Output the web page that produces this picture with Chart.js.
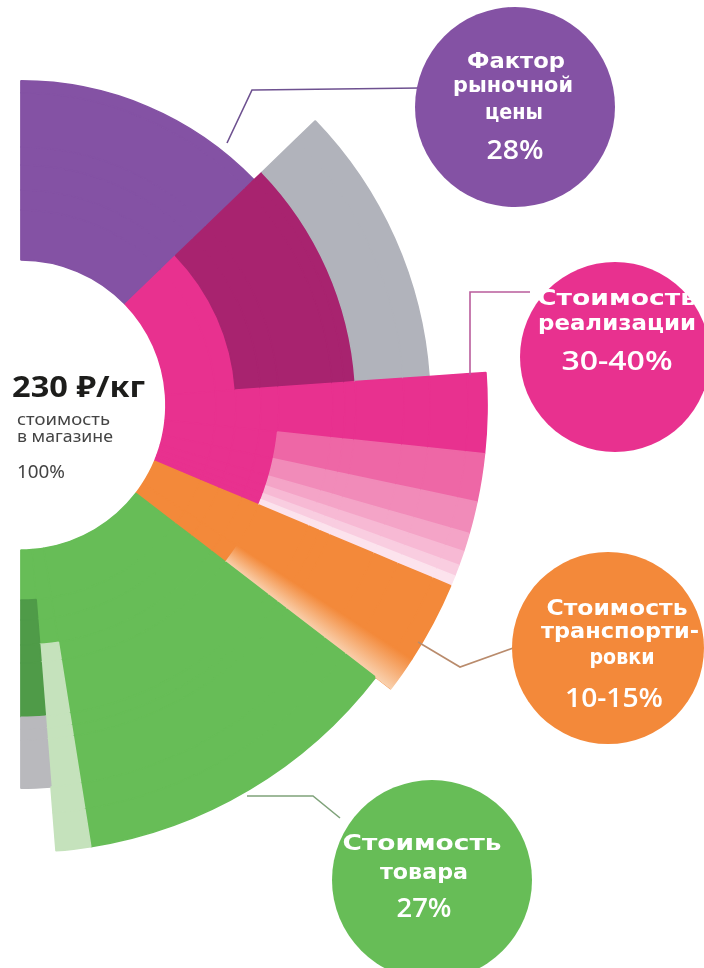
<!DOCTYPE html>
<html lang="ru">
<head>
<meta charset="utf-8">
<title>Из чего складывается цена 1 кг</title>
<script src="https://cdn.jsdelivr.net/npm/chart.js@4.4.1/dist/chart.umd.min.js"></script>
<style>
  html, body { margin: 0; padding: 0; background: #fff; }
  body { width: 704px; height: 968px; position: relative; overflow: hidden; }
  #costChart { position: absolute; left: 20px; top: -62px; }
  #overlay { position: absolute; left: 0; top: 0; pointer-events: none; }
</style>
</head>
<body>
<canvas id="costChart" width="468" height="934"></canvas>
<svg id="overlay" width="704" height="968" xmlns="http://www.w3.org/2000/svg"></svg>
<script>
// sectors of the half circle, clockwise from 12 o'clock
const sectorNames = [
    'Фактор рыночной цены', 'Реализация (наценка)', 'Реализация',
    'Реализация 1', 'Реализация 2', 'Реализация 3', 'Реализация 4', 'Реализация 5', 'Реализация 6',
    'Транспортировка', 'Транспортировка (переход)',
    'Стоимость товара', 'Товар (доп.)', 'Товар (прочее)'
];
// angular size of each sector, degrees (sum = 180)
const sectorSpans = [46, 40, 10, 6, 4, 2.3, 1.8, 1.4, 1.3, 10.2, 4.5, 43.5, 4.5, 4.5];

// colour key of every sector in every ring, outer ring first ('-' = empty)
const B = ['b1', 'b2', 'b3', 'b4', 'b5', 'b6'];
const P6 = ['pink', 'pink', 'pink', 'pink', 'pink', 'pink'];
const ringColors = [
    ['-', '-', 'pink', ...B, 'orange', 'grad', '-', '-', '-'],
    ['-', '-', 'pink', ...B, 'orange', 'grad', 'green', 'lgreen', '-'],
    ['-', 'gray', 'pink', ...B, 'orange', 'grad', 'green', 'lgreen', '-'],
    ['-', 'gray', 'pink', ...B, 'orange', 'grad', 'green', 'lgreen', 'gray2'],
    ['-', 'dmag', 'pink', ...B, 'orange', 'grad', 'green', 'lgreen', 'gray2'],
    ['purple', 'dmag', 'pink', ...B, 'orange', 'grad', 'green', 'lgreen', 'gray2'],
    ['purple', 'dmag', 'pink', ...B, 'orange', 'grad', 'green', 'lgreen', 'dgreen'],
    ['purple', 'dmag', 'pink', ...P6, 'orange', 'orange', 'green', 'lgreen', 'dgreen'],
    ['purple', 'dmag', 'pink', ...P6, 'orange', 'orange', 'green', 'green', 'dgreen'],
    ['purple', 'pink', 'pink', ...P6, 'orange', 'orange', 'green', 'green', 'dgreen'],
    ['purple', 'pink', 'pink', ...P6, 'orange', 'orange', 'green', 'green', 'green']
];
// ring thickness in px, outer ring first
const ringWeights = [19, 38, 26, 48, 11, 12, 54, 18, 25, 20, 50];

const palette = {
    purple: '#8452a4', dmag: '#a8236f', pink: '#e8318f', gray: '#b1b3bb',
    b1: '#ee67a6', b2: '#f18bb9', b3: '#f4a4c7', b4: '#f7b9d4', b5: '#f9cde0', b6: '#fce3ed',
    orange: '#f3893a', green: '#67bd57', lgreen: '#c5e2bc', dgreen: '#4f9b48', gray2: '#b9b9bd',
    '-': 'rgba(0,0,0,0)'
};

// callouts
const calloutTitles = [
    ['Фактор', 'рыночной', 'цены'],
    ['Стоимость', 'реализации'],
    ['Стоимость', 'транспорти-', 'ровки'],
    ['Стоимость', 'товара']
];
const calloutValues = ['28%', '30-40%', '10-15%', '27%'];

const calloutLayout = [
    { color: '#8452a4', line: '#6e5190', c: [515, 107, 100], path: [[227, 143], [252, 90], [420, 88]],
      rows: [[516, 68, 98], [513, 92, 120], [514, 119, 58]], val: [515, 159, 57] },
    { color: '#e8318f', line: '#b95c9c', c: [615, 357, 95], path: [[470, 375], [470, 292], [530, 292]],
      rows: [[617, 305, 160], [617, 330, 158]], val: [617, 370, 111] },
    { color: '#f3893a', line: '#b98b6c', c: [608, 648, 96], path: [[418, 642], [460, 667], [516, 647]],
      rows: [[617, 615, 141], [620, 638, 158], [622, 664, 65]], val: [614, 707, 98] },
    { color: '#67bd57', line: '#7fa27a', c: [432, 880, 100], path: [[247, 796], [313, 796], [340, 818]],
      rows: [[422, 850, 159], [424, 879, 88]], val: [424, 917, 55] }
];

function fillFor(c, key) {
    if (key !== 'grad') return palette[key];
    const chart = c.chart;
    const area = chart.chartArea;
    if (!area) return palette.orange;
    const ctrl = chart.getDatasetMeta(c.datasetIndex).controller;
    const cx = (area.left + area.right) / 2 + (ctrl.offsetX || 0);
    const cy = (area.top + area.bottom) / 2 + (ctrl.offsetY || 0);
    const g = chart.ctx.createConicGradient(0, cx, cy);
    // the transition sector, angles from 12 o'clock -> canvas angle is -90deg
    const from = sectorSpans.slice(0, 10).reduce((a, b) => a + b, 0);
    const to = from + sectorSpans[10];
    g.addColorStop(0, palette.orange);
    g.addColorStop((from - 90) / 360, palette.orange);
    g.addColorStop((to - 90) / 360, '#f9d0ad');
    g.addColorStop((to - 89.9) / 360, palette.orange);
    g.addColorStop(1, palette.orange);
    return g;
}

new Chart(document.getElementById('costChart').getContext('2d'), {
    type: 'doughnut',
    data: {
        labels: sectorNames,
        datasets: ringColors.map((row, i) => ({
            label: 'ring ' + i,
            data: sectorSpans,
            weight: ringWeights[i],
            backgroundColor: c => fillFor(c, row[c.dataIndex]),
            borderColor: c => fillFor(c, row[c.dataIndex]),
            borderWidth: 1.5
        }))
    },
    options: {
        responsive: false,
        animation: false,
        rotation: 0,
        circumference: 180,
        cutout: '31.1%',
        events: [],
        plugins: {
            legend: { display: false },
            tooltip: { enabled: false }
        }
    }
});

// labels and leader lines
const svg = document.getElementById('overlay');
function el(tag, attrs, text) {
    const e = document.createElementNS('http://www.w3.org/2000/svg', tag);
    for (const k in attrs) e.setAttribute(k, attrs[k]);
    if (text) e.textContent = text;
    svg.appendChild(e);
    return e;
}

calloutLayout.forEach(l => {
    el('polyline', { points: l.path.map(p => p.join(',')).join(' '), fill: 'none', stroke: l.line, 'stroke-width': 1.6 });
});
calloutLayout.forEach((l, i) => {
    el('circle', { cx: l.c[0], cy: l.c[1], r: l.c[2], fill: l.color });
    calloutTitles[i].forEach((t, j) => {
        const r = l.rows[j];
        el('text', { x: r[0], y: r[1], 'text-anchor': 'middle', fill: '#fff', 'font-family': 'DejaVu Sans, Noto Sans, sans-serif',
            'font-weight': 'bold', 'font-size': 20.5, textLength: r[2], lengthAdjust: 'spacingAndGlyphs' }, t);
    });
    const v = l.val;
    el('text', { x: v[0], y: v[1], 'text-anchor': 'middle', fill: '#fff', 'font-family': 'Open Sans, Noto Sans, sans-serif',
        'font-weight': 600, 'font-size': 27, textLength: v[2], lengthAdjust: 'spacingAndGlyphs' }, calloutValues[i]);
});

// centre text
el('text', { x: 12, y: 397, fill: '#1d1d1b', 'font-family': 'Noto Sans, DejaVu Sans, sans-serif', 'font-weight': 'bold',
    'font-size': 29, textLength: 133, lengthAdjust: 'spacingAndGlyphs' }, '230 ₽/кг');
el('text', { x: 17, y: 425, fill: '#444', 'font-family': 'Noto Sans, sans-serif', 'font-size': 16, textLength: 93, lengthAdjust: 'spacingAndGlyphs' }, 'стоимость');
el('text', { x: 17, y: 442, fill: '#444', 'font-family': 'Noto Sans, sans-serif', 'font-size': 16, textLength: 96, lengthAdjust: 'spacingAndGlyphs' }, 'в магазине');
el('text', { x: 17, y: 478, fill: '#444', 'font-family': 'Noto Sans, sans-serif', 'font-size': 18, textLength: 48, lengthAdjust: 'spacingAndGlyphs' }, '100%');
</script>
</body>
</html>
